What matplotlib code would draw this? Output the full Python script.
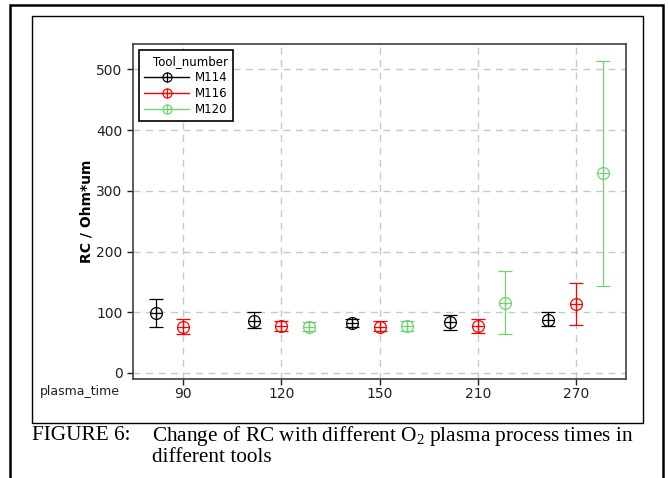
import numpy as np
import matplotlib
matplotlib.use('Agg')
import matplotlib.pyplot as plt
from matplotlib.lines import Line2D
from matplotlib.patches import Rectangle
from matplotlib.legend_handler import HandlerTuple

plt.rcParams['mathtext.fontset'] = 'custom'
plt.rcParams['mathtext.rm'] = 'Liberation Serif'

times = ['90', '120', '150', '210', '270']
tools = ['M114', 'M116', 'M120']
colors = ['black', '#ff0000', '#6fd36f']

# mean, lower end, upper end of the error bar
m114_mean = [98, 86, 82.5, 83.5, 88]
m114_low = [75, 74, 75, 71.5, 77]
m114_high = [121, 100, 89, 96, 100]

m116_mean = [75.5, 77, 76.5, 77, 113]
m116_low = [64, 68.5, 68.5, 66.5, 78.5]
m116_high = [88.5, 85, 85, 88.5, 149]

m120_mean = [np.nan, 76, 77, 115, 330]
m120_low = [np.nan, 68.5, 68.5, 64.5, 143]
m120_high = [np.nan, 84, 85, 168.5, 514]

means = [m114_mean, m116_mean, m120_mean]
lows = [m114_low, m116_low, m120_low]
highs = [m114_high, m116_high, m120_high]

fig = plt.figure(figsize=(6.68, 4.78), dpi=100)
ax = fig.add_axes([133/668, 1 - 379/478, (626 - 133)/668, (379 - 44)/478])

pos = np.arange(len(times))
offsets = [-0.28, 0, 0.28]
handles = []
for tool, c, off, mu, lo, hi in zip(tools, colors, offsets, means, lows, highs):
	mu = np.array(mu, dtype=float)
	err = [mu - np.array(lo), np.array(hi) - mu]
	ax.errorbar(pos + off, mu, yerr=err, fmt='none', ecolor=c, elinewidth=0.9,
				capsize=5, capthick=0.9, zorder=3)
	ax.plot(pos + off, mu, 'o', ms=8.5, mfc='none', mec=c, mew=0.9, zorder=4)
	ax.plot(pos + off, mu, '+', ms=8.5, mec=c, mew=0.9, zorder=4)
	h1 = Line2D([], [], color=c, lw=1, marker='o', ms=6.5, mfc='none', mec=c, mew=0.9)
	h2 = Line2D([], [], color=c, lw=0, marker='+', ms=6.5, mec=c, mew=0.9)
	handles.append((h1, h2))

ax.set_xlim(-0.51, 4.51)
ax.set_ylim(-10, 542)
ax.set_xticks(pos)
ax.set_xticklabels(times)
ax.set_yticks([0, 100, 200, 300, 400, 500])
ax.grid(True, ls=(0, (5, 4)), color='#c8c8c8', lw=1)
ax.set_axisbelow(True)
for s in ax.spines.values():
	s.set_color('#404040')
	s.set_linewidth(1.2)
ax.tick_params(labelsize=10, colors='#202020', length=4, width=1)
ax.tick_params(axis='x', pad=2)
ax.set_ylabel('RC / Ohm*um', fontsize=10, fontweight='bold')
ax.yaxis.set_label_coords(-0.08, 0.5)

fig.text(40/668, 1 - 392/478, 'plasma_time', fontsize=9, va='center', ha='left', color='#202020')

leg = ax.legend(handles, tools, title='Tool_number', loc='upper left',
				bbox_to_anchor=(0.0, 1.0), borderaxespad=0.5, fontsize=8.5, title_fontsize=8.5,
				handler_map={tuple: HandlerTuple(ndivide=1)},
				fancybox=False, edgecolor='black', framealpha=1,
				handlelength=3.8, handletextpad=0.5, borderpad=0.45, labelspacing=0.25)
leg.get_frame().set_linewidth(1.2)
leg._legend_box.align = 'right'

# frames around the figure
fig.add_artist(Rectangle((10/668, -0.3), (663 - 10)/668, 1.3 - 5/478, transform=fig.transFigure,
						 fill=False, ec='black', lw=1.8))
fig.add_artist(Rectangle((32/668, 1 - 423/478), (643 - 32)/668, (423 - 16)/478, transform=fig.transFigure,
						 fill=False, ec='black', lw=1))

serif = 'Liberation Serif'
fig.text(32/668, 1 - 436/478, 'FIGURE 6:', fontsize=15.3, family=serif, va='center')
fig.text(152/668, 1 - 436/478, r'Change of RC with different O$_\mathrm{2}$ plasma process times in',
		 fontsize=15.3, family=serif, va='center')
fig.text(152/668, 1 - 458/478, 'different tools', fontsize=15.3, family=serif, va='center')

fig.savefig('out.png', dpi=100)
